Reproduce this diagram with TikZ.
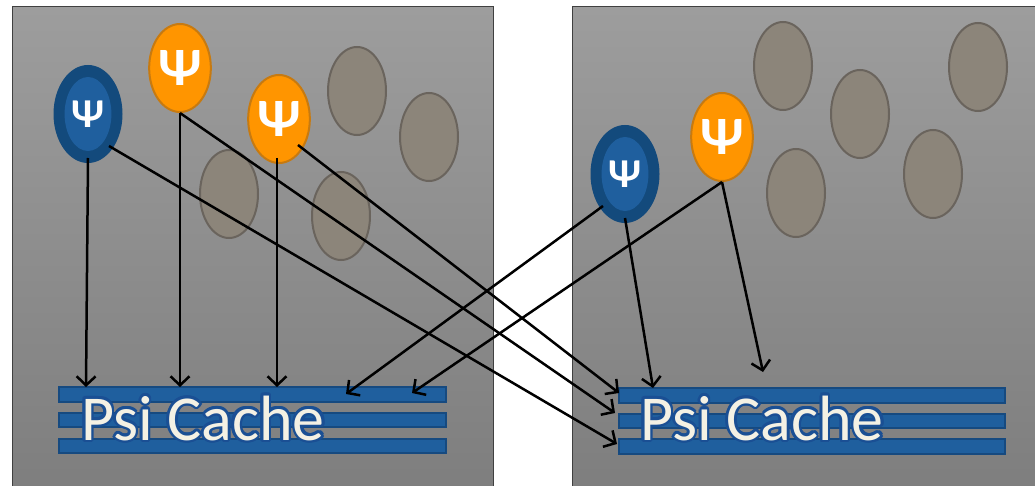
\documentclass[tikz,border=0pt]{standalone}
\usepackage{fontspec}
\setmainfont{Carlito}
\usetikzlibrary{shapes.geometric,arrows.meta,calc}
\definecolor{panelTop}{HTML}{9D9D9D}
\definecolor{panelBot}{HTML}{7E7E7E}
\definecolor{grayFill}{HTML}{8C857A}
\definecolor{grayEdge}{HTML}{6A645D}
\definecolor{orFill}{HTML}{FF9500}
\definecolor{orEdge}{HTML}{C77A10}
\definecolor{blOut}{HTML}{134A7C}
\definecolor{blIn}{HTML}{1F5F9E}
\definecolor{barFill}{HTML}{1F5F9E}
\definecolor{barEdge}{HTML}{164A80}
\definecolor{txtFill}{HTML}{F4F1E4}
\definecolor{glow}{HTML}{1A4F94}
\tikzset{
  panel/.style={draw=black!75,line width=1pt,top color=panelTop,bottom color=panelBot},
  cell/.style={ellipse,draw=grayEdge,fill=grayFill,line width=2pt,minimum width=58pt,minimum height=88pt,inner sep=0pt},
  orpsi/.style={ellipse,draw=orEdge,fill=orFill,line width=2pt,minimum width=58pt,minimum height=88pt,inner sep=0pt,text=white,font=\fontsize{54}{54}\selectfont\bfseries},
  blpsi/.style={ellipse,fill=blOut,minimum width=69pt,minimum height=98pt,inner sep=0pt},
  blinner/.style={ellipse,fill=blIn,minimum width=46pt,minimum height=74pt,inner sep=0pt,text=white,font=\fontsize{41}{41}\selectfont\bfseries},
  bar/.style={draw=barEdge,fill=barFill,line width=1.5pt},
  arr/.style={-{Straight Barb[length=9pt,width=19pt,line width=2.5pt]},line width=2.5pt,black},
  cachetxt/.style={font=\fontsize{64}{64}\selectfont,inner sep=0pt,anchor=base west,text=txtFill},
}
\begin{document}
\begin{tikzpicture}[x=1pt,y=-1pt]
\useasboundingbox (0,0) rectangle (1035,486);
% panels
\path[panel] (12,7) rectangle (493,492);
\path[panel] (572,7) rectangle (1040,492);
% left gray cells
\node[cell] (gL1) at (357,91) {};
\node[cell] (gL2) at (429,137) {};
\node[cell] (gL3) at (229,194) {};
\node[cell] (gL4) at (341,216) {};
% right gray cells
\node[cell] (gR1) at (783,66) {};
\node[cell] (gR2) at (860,114) {};
\node[cell] (gR3) at (978,67) {};
\node[cell] (gR4) at (796,193) {};
\node[cell] (gR5) at (933,174) {};
% left psi
\node[blpsi] (bL) at (88,114) {};
\node[blinner] (bLi) at (88,114) {Ψ};
\node[orpsi] (oL1) at (180,68) {Ψ};
\node[orpsi] (oL2) at (279,119) {Ψ};
% right psi
\node[blpsi] (bR) at (625,174) {};
\node[blinner] (bRi) at (625,174) {Ψ};
\node[orpsi] (oR) at (722,137) {Ψ};
% caches
\path[bar] (59,387) rectangle (446,402); \coordinate (cL1) at (59,387);
\path[bar] (59,413) rectangle (446,427); \coordinate (cL2) at (59,413);
\path[bar] (59,439) rectangle (446,453); \coordinate (cL3) at (59,439);
\path[bar] (619,388) rectangle (1005,403); \coordinate (cR1) at (619,388);
\path[bar] (619,414) rectangle (1005,428); \coordinate (cR2) at (619,414);
\path[bar] (619,439) rectangle (1005,454); \coordinate (cR3) at (619,439);
\foreach \a [count=\i] in {0,30,...,330}{
  \node[cachetxt,text=glow] (gtL\i) at ($(81,440)+(\a:2.6)$) {Psi Cache};
  \node[cachetxt,text=glow] (gtR\i) at ($(640,440)+(\a:2.6)$) {Psi Cache};
}
\node[cachetxt] (tL) at (81,440) {Psi Cache};
\node[cachetxt] (tR) at (640,440) {Psi Cache};
% arrow targets
\coordinate (tgL1) at (86,387);
\coordinate (tgL2) at (180,387);
\coordinate (tgL3) at (277,387);
\coordinate (tgL4) at (346,394);
\coordinate (tgL5) at (412,393);
\coordinate (tgR1) at (619,393);
\coordinate (tgR2) at (615,413);
\coordinate (tgR3) at (617,444);
\coordinate (tgR4) at (653,388);
\coordinate (tgR5) at (763,372);
% arrows left
\draw[arr] ($(bL)+(0,44)$) -- (tgL1);
\draw[arr] (oL1.south) -- (tgL2);
\draw[arr] ($(oL2)+(-2,39)$) -- (tgL3);
\draw[arr] ($(bL)+(21,32)$) -- (tgR3);
\draw[arr] (oL1.south) -- (tgR2);
\draw[arr] ($(oL2)+(19,26)$) -- (tgR1);
% arrows right
\draw[arr] ($(bR)+(-22,32)$) -- (tgL4);
\draw[arr] (oR.south) -- (tgL5);
\draw[arr] ($(bR)+(0,44)$) -- (tgR4);
\draw[arr] (oR.south) -- (tgR5);
\end{tikzpicture}
\end{document}
